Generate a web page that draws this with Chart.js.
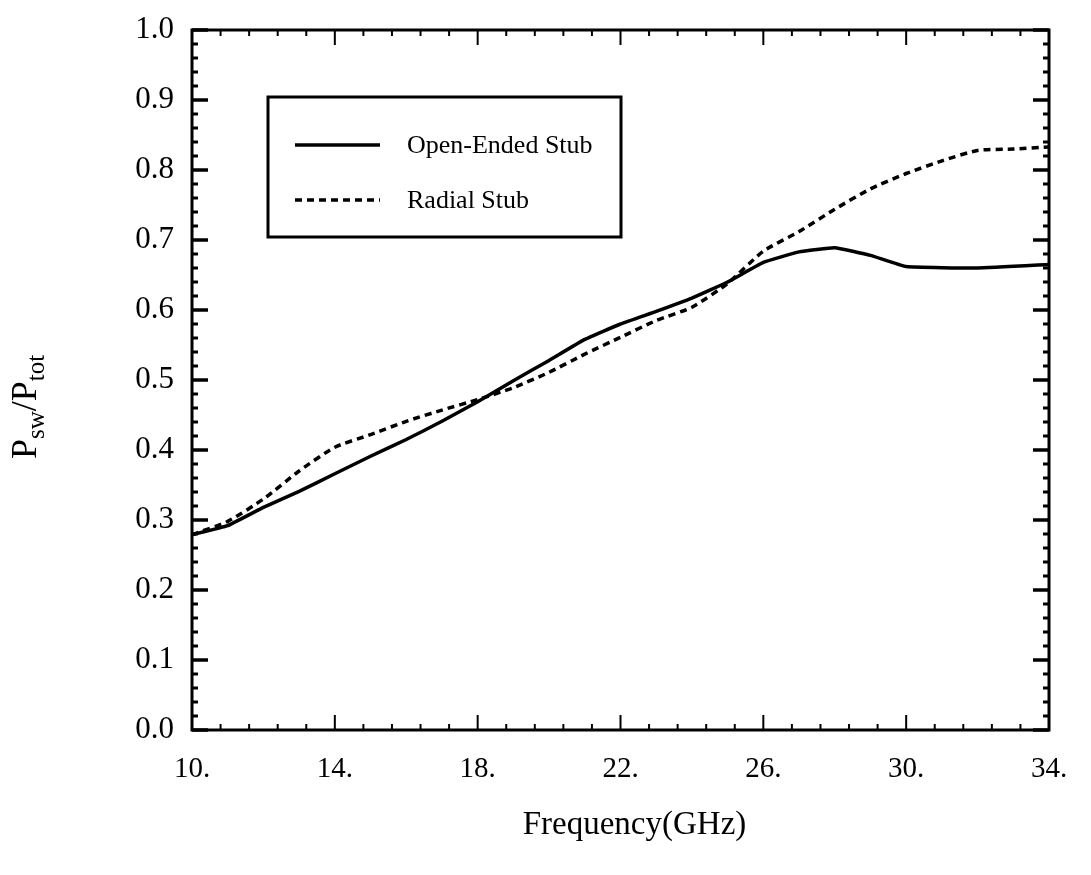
<!DOCTYPE html>
<html>
<head>
<meta charset="utf-8">
<script src="https://cdn.jsdelivr.net/npm/chart.js@4/dist/chart.umd.min.js"></script>
<style>
  html, body { margin: 0; padding: 0; background: #fff; }
  #wrap { width: 1091px; height: 875px; }
</style>
</head>
<body>
<div id="wrap"><canvas id="myChart" width="1091" height="875"></canvas></div>
<script>
// frequency points (GHz)
const freqOpen = [10, 11, 12, 13, 14, 15, 16, 17, 18, 19, 20, 21, 22, 23, 24, 25, 26, 27, 28, 29, 30, 32, 34];
const openEnded = [0.279, 0.292, 0.318, 0.341, 0.366, 0.391, 0.415, 0.441, 0.469, 0.499, 0.528, 0.558, 0.580, 0.598, 0.617, 0.640, 0.668, 0.683, 0.689, 0.678, 0.662, 0.660, 0.665];

const freqRadial = [10, 11, 12, 13, 14, 15, 16, 17, 18, 19, 20, 21, 22, 23, 24, 25, 26, 27, 28, 29, 30, 31, 32, 33, 34];
const radial = [0.279, 0.298, 0.330, 0.370, 0.404, 0.422, 0.441, 0.457, 0.472, 0.489, 0.511, 0.537, 0.561, 0.585, 0.604, 0.638, 0.684, 0.712, 0.744, 0.773, 0.795, 0.813, 0.828, 0.830, 0.833];

const xTicks = [10, 14, 18, 22, 26, 30, 34];
const yTicks = [0.0, 0.1, 0.2, 0.3, 0.4, 0.5, 0.6, 0.7, 0.8, 0.9, 1.0];

const serif = '"Liberation Serif", "Times New Roman", serif';

function toPoints(xs, ys) {
    return xs.map((x, i) => ({ x: x, y: ys[i] }));
}

// box around the plot with inward major/minor ticks on all four sides
const frameTicks = {
    id: 'frameTicks',
    afterDraw(chart) {
        const ctx = chart.ctx;
        const a = chart.chartArea;
        const xs = chart.scales.x, ys = chart.scales.y;
        ctx.save();
        ctx.strokeStyle = '#000';
        ctx.lineWidth = 3;
        ctx.strokeRect(a.left, a.top, a.right - a.left, a.bottom - a.top);

        ctx.lineWidth = 2;
        for (let i = 0; i <= 30; i++) {
            const v = 10 + i * 0.8;
            const px = xs.getPixelForValue(v);
            const len = (i % 5 === 0) ? 15 : 6;
            ctx.beginPath();
            ctx.moveTo(px, a.bottom); ctx.lineTo(px, a.bottom - len);
            ctx.moveTo(px, a.top); ctx.lineTo(px, a.top + len);
            ctx.stroke();
        }
        for (let i = 0; i <= 50; i++) {
            const v = i * 0.02;
            const py = ys.getPixelForValue(v);
            const major = i % 5 === 0;
            ctx.lineWidth = major ? 3.5 : 3;
            const len = major ? 16 : 6;
            ctx.beginPath();
            ctx.moveTo(a.left, py); ctx.lineTo(a.left + len, py);
            ctx.moveTo(a.right, py); ctx.lineTo(a.right - len, py);
            ctx.stroke();
        }
        ctx.restore();
    }
};

// boxed legend in the upper left of the plot
const boxLegend = {
    id: 'boxLegend',
    afterDraw(chart) {
        const ctx = chart.ctx;
        const a = chart.chartArea;
        const bx = a.left + 76, by = a.top + 67, bw = 353, bh = 140;
        ctx.save();
        ctx.fillStyle = '#fff';
        ctx.fillRect(bx, by, bw, bh);
        ctx.strokeStyle = '#000';
        ctx.lineWidth = 3;
        ctx.strokeRect(bx, by, bw, bh);
        ctx.font = '26px ' + serif;
        ctx.textBaseline = 'middle';
        ctx.fillStyle = '#000';
        chart.data.datasets.forEach((ds, i) => {
            const y = by + 48 + i * 55;
            ctx.beginPath();
            ctx.lineWidth = ds.borderWidth;
            ctx.setLineDash(ds.borderDash || []);
            ctx.moveTo(bx + 27, y);
            ctx.lineTo(bx + 112, y);
            ctx.stroke();
            ctx.setLineDash([]);
            ctx.fillText(ds.label, bx + 139, y + 1);
        });
        ctx.restore();
    }
};

// axis titles, the y one with subscripts
const axisTitles = {
    id: 'axisTitles',
    afterDraw(chart) {
        const ctx = chart.ctx;
        const a = chart.chartArea;
        ctx.save();
        ctx.fillStyle = '#000';
        ctx.font = '33px ' + serif;
        ctx.textAlign = 'center';
        ctx.textBaseline = 'alphabetic';
        ctx.fillText('Frequency(GHz)', (a.left + a.right) / 2 + 14, 834);

        ctx.translate(36, 407);
        ctx.rotate(-Math.PI / 2);
        const parts = [
            { t: 'P', size: 36, dy: 0 },
            { t: 'sw', size: 25, dy: 8 },
            { t: '/P', size: 36, dy: 0 },
            { t: 'tot', size: 25, dy: 8 }
        ];
        let total = 0;
        parts.forEach(p => { ctx.font = p.size + 'px ' + serif; p.w = ctx.measureText(p.t).width; total += p.w; });
        ctx.textAlign = 'left';
        let x = -total / 2;
        parts.forEach(p => {
            ctx.font = p.size + 'px ' + serif;
            ctx.fillText(p.t, x, p.dy);
            x += p.w;
        });
        ctx.restore();
    }
};

const ctx = document.getElementById('myChart').getContext('2d');
const chart = new Chart(ctx, {
    type: 'line',
    data: {
        datasets: [{
            label: 'Open-Ended Stub',
            data: toPoints(freqOpen, openEnded),
            borderColor: '#000',
            backgroundColor: 'transparent',
            borderWidth: 3.5,
            pointRadius: 0,
            tension: 0.1
        }, {
            label: 'Radial Stub',
            data: toPoints(freqRadial, radial),
            borderColor: '#000',
            backgroundColor: 'transparent',
            borderWidth: 3.5,
            borderDash: [7, 5],
            pointRadius: 0,
            tension: 0.2
        }]
    },
    options: {
        responsive: false,
        animation: false,
        layout: { padding: { top: 30, right: 42, bottom: 0, left: 0 } },
        plugins: {
            legend: { display: false },
            tooltip: { enabled: false }
        },
        scales: {
            x: {
                type: 'linear',
                min: 10,
                max: 34,
                grid: { display: false },
                border: { display: false },
                afterBuildTicks: s => { s.ticks = xTicks.map(v => ({ value: v })); },
                afterFit: s => { s.height = 145; },
                ticks: {
                    color: '#000',
                    font: { family: serif, size: 29 },
                    padding: 14,
                    maxRotation: 0,
                    callback: v => v + '.'
                }
            },
            y: {
                min: 0,
                max: 1,
                grid: { display: false },
                border: { display: false },
                afterBuildTicks: s => { s.ticks = yTicks.map(v => ({ value: v })); },
                afterFit: s => { s.width = 192; },
                ticks: {
                    color: '#000',
                    font: { family: serif, size: 31 },
                    padding: 10,
                    callback: v => v.toFixed(1)
                }
            }
        }
    },
    plugins: [frameTicks, boxLegend, axisTitles]
});
</script>
</body>
</html>
